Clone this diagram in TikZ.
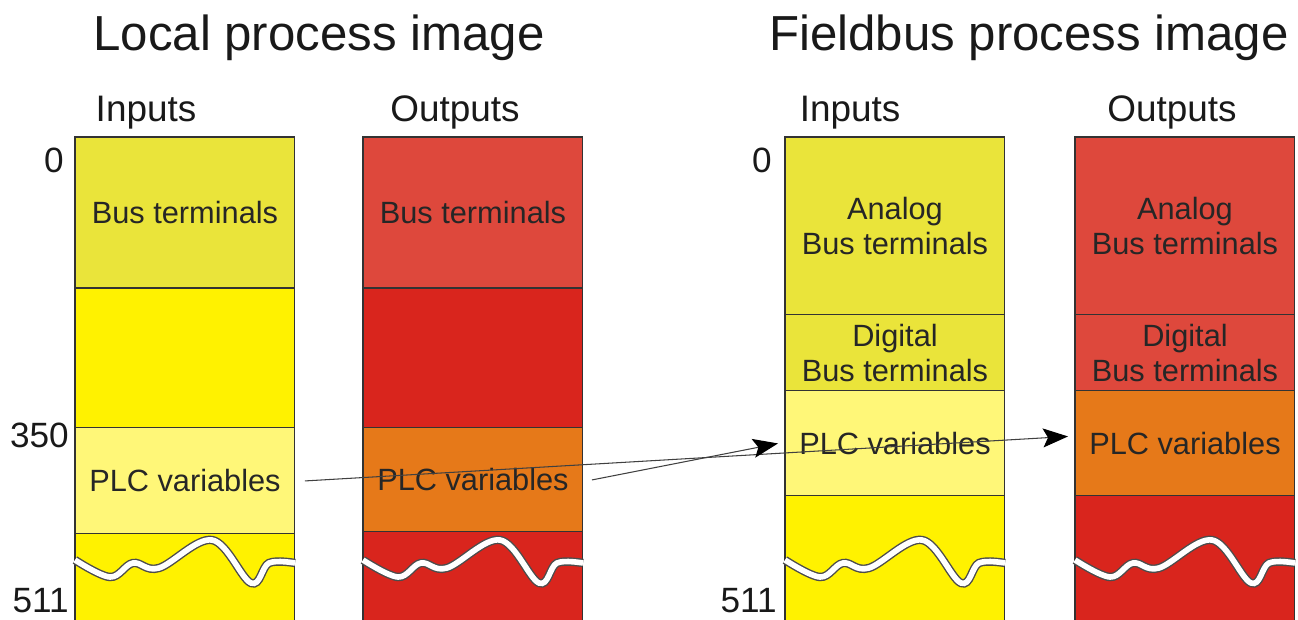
\documentclass[tikz,border=0pt]{standalone}
\usepackage{tikz}
\usepackage{xcolor}
\usepackage{fontspec}
\setmainfont{Liberation Sans}
\usetikzlibrary{positioning,arrows.meta}
\definecolor{inbus}{RGB}{234,228,58}
\definecolor{inyellow}{RGB}{255,242,0}
\definecolor{inplc}{RGB}{255,247,120}
\definecolor{outbus}{RGB}{222,72,60}
\definecolor{outred}{RGB}{217,37,29}
\definecolor{outplc}{RGB}{230,121,25}

\tikzset{
  seg/.style={rectangle, draw=black!80, line width=0.6pt, minimum width=4.4cm, inner sep=0pt, outer sep=0pt, align=center, font=\fontsize{17.5}{19.5}\selectfont, text=black!85},
  wave/.style={draw=black!70, line width=0.8pt, double=white, double distance=3.2pt},
  link/.style={draw=black!75, line width=0.6pt, -{Stealth[length=0.5cm,width=0.38cm,inset=0.1cm,color=black]}},
  title/.style={font=\fontsize{28}{32}\selectfont, anchor=base, text=black!90},
  head/.style={font=\fontsize{21}{24}\selectfont, anchor=base, text=black!90},
  addr/.style={font=\fontsize{20}{24}\selectfont, anchor=base east, inner sep=0pt, text=black!90}
}

\begin{document}
\begin{tikzpicture}[x=0.02cm, y=-0.02cm]
\useasboundingbox (0,0) rectangle (1298,619);
\clip (0,0) rectangle (1298,619);

\node[title] (ltitle) at (319,50) {Local process image};
\node[title] (ftitle) at (1029,50) {Fieldbus process image};

\node[head] (linhead) at (146,121) {Inputs};
\node[head] (louthead) at (455,121) {Outputs};
\node[head] (finhead) at (850,121) {Inputs};
\node[head] (fouthead) at (1172,121) {Outputs};

\node[addr] (lzero) at (64,172) {0};
\node[addr] (lmid) at (69,447) {350};
\node[addr] (lend) at (69,612) {511};
\node[addr] (fzero) at (772,172) {0};
\node[addr] (fend) at (777,612) {511};

\node[seg, fill=inbus, minimum height=3.02cm, anchor=north west] (lin-bus) at (75,137) {Bus terminals};
\node[seg, fill=inyellow, minimum height=2.8cm, below=0pt of lin-bus] (lin-free) {};
\node[seg, fill=inplc, minimum height=2.12cm, below=0pt of lin-free] (lin-plc) {PLC variables};
\node[seg, fill=inyellow, minimum height=2.12cm, below=0pt of lin-plc] (lin-rest) {};

\node[seg, fill=outbus, minimum height=3.02cm, anchor=north west] (lout-bus) at (363,137) {Bus terminals};
\node[seg, fill=outred, minimum height=2.8cm, below=0pt of lout-bus] (lout-free) {};
\node[seg, fill=outplc, minimum height=2.08cm, below=0pt of lout-free] (lout-plc) {PLC variables};
\node[seg, fill=outred, minimum height=2.2cm, below=0pt of lout-plc] (lout-rest) {};

\node[seg, fill=inbus, minimum height=3.56cm, anchor=north west] (fin-ana) at (785,137) {Analog\\Bus terminals};
\node[seg, fill=inbus, minimum height=1.52cm, below=0pt of fin-ana] (fin-dig) {Digital\\Bus terminals};
\node[seg, fill=inplc, minimum height=2.1cm, below=0pt of fin-dig] (fin-plc) {PLC variables};
\node[seg, fill=inyellow, minimum height=2.88cm, below=0pt of fin-plc] (fin-rest) {};

\node[seg, fill=outbus, minimum height=3.56cm, anchor=north west] (fout-ana) at (1075,137) {Analog\\Bus terminals};
\node[seg, fill=outbus, minimum height=1.52cm, below=0pt of fout-ana] (fout-dig) {Digital\\Bus terminals};
\node[seg, fill=outplc, minimum height=2.1cm, below=0pt of fout-dig] (fout-plc) {PLC variables};
\node[seg, fill=outred, minimum height=2.88cm, below=0pt of fout-plc] (fout-rest) {};

\foreach \x in {75,363,785,1075}
  \draw[wave, shift={(\x,0)}] plot[smooth, tension=0.6] coordinates {(0,560) (35,577) (58,563) (84,568) (137,540) (176,583) (194,563) (220,563)};

\draw[link] ([xshift=0.2cm]lin-plc.east) -- ([xshift=-0.14cm, yshift=0.14cm]fout-plc.west);
\draw[link] ([xshift=0.18cm]lout-plc.east) -- ([xshift=-0.14cm]fin-plc.west);
\end{tikzpicture}
\end{document}
